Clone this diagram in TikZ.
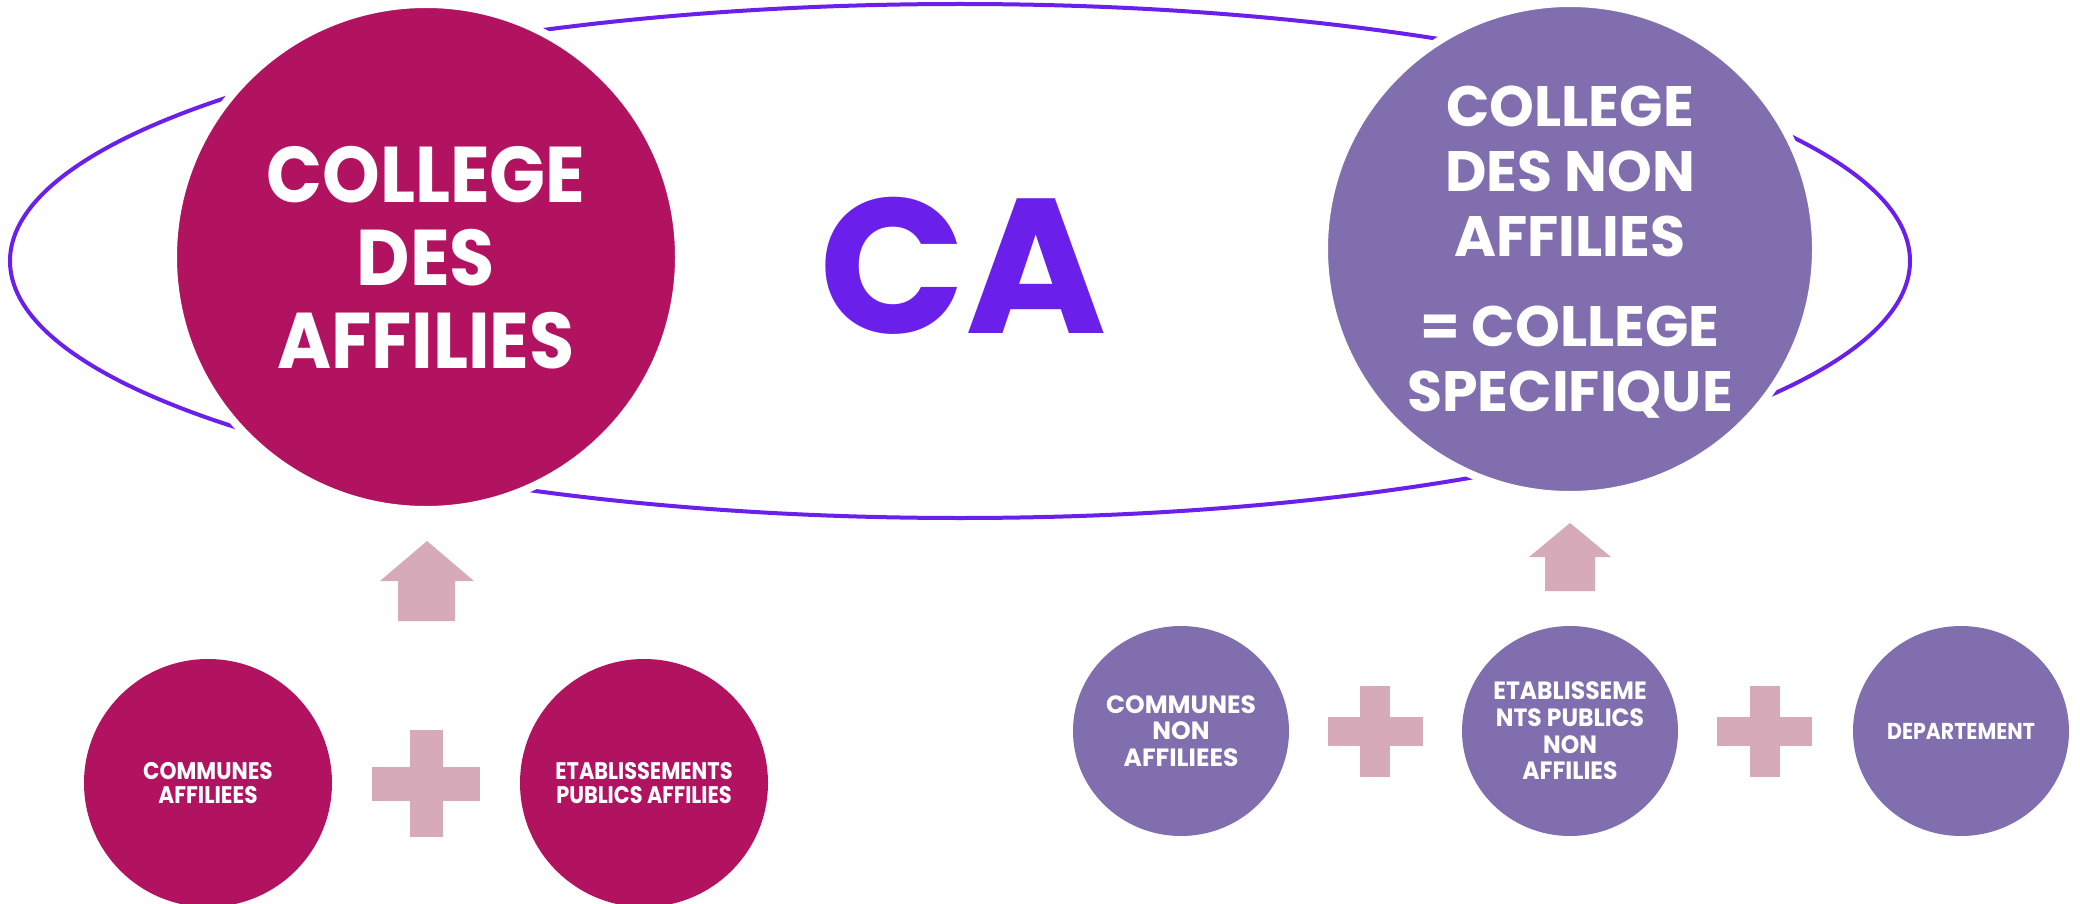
\documentclass[tikz,border=0pt]{standalone}
\usepackage{fontspec}
\usetikzlibrary{shapes.geometric}
\newfontfamily\popCA{Poppins}
\newfontfamily\popL{Poppins}[FakeStretch=0.93]
\newfontfamily\popR{Poppins}[FakeStretch=1.0]
\newfontfamily\popSL{Poppins}[FakeStretch=0.9]
\newfontfamily\popSLb{Poppins}[FakeStretch=0.87]
\newfontfamily\popSR{Poppins}[FakeStretch=1.0]
\newfontfamily\popSRb{Poppins}[FakeStretch=0.94]
\newfontfamily\popSRc{Poppins}[FakeStretch=0.89]
\definecolor{mag}{HTML}{B21361}
\definecolor{lav}{HTML}{806EAF}
\definecolor{pinkc}{HTML}{D6AAB8}
\definecolor{vio}{HTML}{6A1FEA}
\tikzset{
  bigcirc/.style={circle, draw=white, line width=8pt, inner sep=0pt, text=white, align=center, text depth=0pt},
  smallcirc/.style={circle, inner sep=0pt, text=white, align=center, text depth=0pt},
  smallell/.style={ellipse, inner sep=0pt, minimum width=216pt, minimum height=210pt, fill=lav},
  txt/.style={inner sep=0pt, text=white, align=center, text depth=0pt},
  blockarrow/.style={fill=pinkc},
  plusbar/.style={fill=pinkc},
  ring/.style={draw=vio, line width=4pt}
}
\begin{document}
\begin{tikzpicture}[x=1pt,y=-1pt]
\useasboundingbox (0,0) rectangle (2080,904);
\fill[white] (0,0) rectangle (2080,904);
% ring
\draw[ring] (960,261) ellipse [x radius=950pt, y radius=257pt];
% big circles
\node[bigcirc, fill=mag, minimum size=506pt, font=\popL\bfseries\fontsize{79}{83}\selectfont] (aff) at (426,257) {COLLEGE\\DES\\AFFILIES};
\node[bigcirc, fill=lav, minimum size=492pt, font=\popR\bfseries\fontsize{57}{65}\selectfont] (naff) at (1570,249) {COLLEGE\\DES NON\\AFFILIES\\[25pt]= COLLEGE\\SPECIFIQUE};
% CA
\node[text=vio, inner sep=0pt, font=\popCA\bfseries\fontsize{192}{192}\selectfont] (ca) at (963,266) {CA};
% small left circles
\node[smallcirc, fill=mag, minimum size=248pt, font=\popSL\bfseries\fontsize{24}{24}\selectfont] (comA) at (208,783) {COMMUNES\\AFFILIEES};
\node[smallcirc, fill=mag, minimum size=248pt, font=\popSLb\bfseries\fontsize{24}{24}\selectfont] (etabA) at (644,783) {ETABLISSEMENTS\\PUBLICS AFFILIES};
% small right ellipses
\node[smallell] (comN) at (1181,731) {};
\node[smallell] (etabN) at (1570,731) {};
\node[smallell] (dep) at (1961,731) {};
\node[txt, font=\popSR\bfseries\fontsize{25}{26.7}\selectfont] (comNt) at (comN.center) {COMMUNES\\NON\\AFFILIEES};
\node[txt, font=\popSRb\bfseries\fontsize{25}{26.7}\selectfont] (etabNt) at (etabN.center) {ETABLISSEME\\NTS PUBLICS\\NON\\AFFILIES};
\node[txt, font=\popSRc\bfseries\fontsize{23}{26}\selectfont] (dept) at (dep.center) {DEPARTEMENT};
% arrows
\fill[blockarrow] (380,581) -- (427,541) -- (474,581) -- (455,581) -- (455,621) -- (398,621) -- (398,581) -- cycle;
\fill[blockarrow] (1529,557) -- (1570,523) -- (1611,557) -- (1595,557) -- (1595,591) -- (1545,591) -- (1545,557) -- cycle;
% pluses
\fill[plusbar] (372,767) rectangle (480,801);
\fill[plusbar] (410,730) rectangle (443,837);
\fill[plusbar] (1328,717) rectangle (1423,746);
\fill[plusbar] (1360,686) rectangle (1390,777);
\fill[plusbar] (1717,717) rectangle (1812,746);
\fill[plusbar] (1750,686) rectangle (1780,777);
\end{tikzpicture}
\end{document}
